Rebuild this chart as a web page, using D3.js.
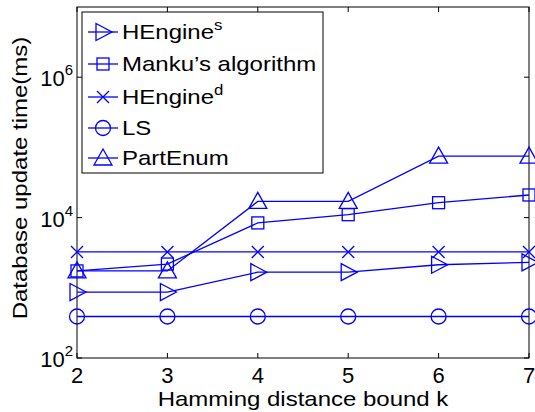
<!DOCTYPE html>
<html>
<head>
<meta charset="utf-8">
<script src="https://cdn.jsdelivr.net/npm/d3@7"></script>
<style>
  body { margin: 0; background: #fff; }
  svg { font-family: "Liberation Sans", Arial, sans-serif; }
</style>
</head>
<body>
<div id="chart"></div>
<script>
// valors llegits de la figura
const kValues = [2, 3, 4, 5, 6, 7];
const hengineS = [870, 870, 1670, 1670, 2130, 2300];
const manku = [1740, 2180, 8400, 11000, 16300, 21000];
const hengineD = [3240, 3240, 3240, 3240, 3240, 3240];
const ls = [390, 390, 390, 390, 390, 390];
const partEnum = [1740, 1740, 17000, 17000, 75000, 75000];
const yTicks = [1e2, 1e4, 1e6];

const seriesNames = ["HEngine", "Manku\u2019s algorithm", "HEngine", "LS", "PartEnum"];
const seriesSup = ["s", "", "d", "", ""];
const seriesData = [hengineS, manku, hengineD, ls, partEnum];
const seriesMarker = ["right", "square", "x", "circle", "up"];

const W = 535, H = 412;
const m = { left: 77, right: 529, top: 7, bottom: 358 };
const blue = "#0000ff";
const stretch = 1.2; // el text de l'original és més ample

const svg = d3.select("#chart").append("svg").attr("width", W).attr("height", H);

const x = d3.scaleLinear().domain([2, 7]).range([m.left, m.right]);
const y = d3.scaleLog().domain([1e2, 1e7]).range([m.bottom, m.top]);

// marcadors
function drawMarker(g, type, cx, cy) {
    const s = g.append("g").attr("transform", `translate(${cx},${cy})`)
        .attr("fill", "none").attr("stroke", blue).attr("stroke-width", 1.3);
    if (type === "right") s.append("path").attr("d", "M-7,-8.5L9,0L-7,8.5Z");
    else if (type === "square") s.append("rect").attr("x", -6).attr("y", -6).attr("width", 12).attr("height", 12);
    else if (type === "x") s.append("path").attr("d", "M-6,-6L6,6M-6,6L6,-6");
    else if (type === "circle") s.append("circle").attr("r", 7.5);
    else if (type === "up") s.append("path").attr("d", "M0,-9L9,7L-9,7Z");
}

// eixos amb marques cap a dins
const axisG = svg.append("g").attr("stroke", "#000").attr("stroke-width", 1);
axisG.append("rect").attr("x", m.left).attr("y", m.top)
    .attr("width", m.right - m.left).attr("height", m.bottom - m.top).attr("fill", "none");
kValues.forEach(k => {
    axisG.append("line").attr("x1", x(k)).attr("x2", x(k)).attr("y1", m.bottom).attr("y2", m.bottom - 5);
    axisG.append("line").attr("x1", x(k)).attr("x2", x(k)).attr("y1", m.top).attr("y2", m.top + 5);
});
yTicks.forEach(t => {
    axisG.append("line").attr("x1", m.left).attr("x2", m.left + 5).attr("y1", y(t)).attr("y2", y(t));
    axisG.append("line").attr("x1", m.right).attr("x2", m.right - 5).attr("y1", y(t)).attr("y2", y(t));
});

svg.append("g").selectAll("text").data(kValues).join("text")
    .attr("x", d => x(d)).attr("y", 383).attr("text-anchor", "middle")
    .attr("font-size", 22).text(d => d);

const yl = svg.append("g").selectAll("text").data(yTicks).join("text")
    .attr("x", 73).attr("y", d => y(d) + 9).attr("text-anchor", "end").attr("font-size", 22);
yl.append("tspan").text("10");
yl.append("tspan").attr("dy", -11).attr("font-size", 15).text(d => Math.round(Math.log10(d)));

// títols dels eixos
svg.append("g").attr("transform", `translate(${(m.left + m.right) / 2},406) scale(${stretch},1)`)
    .append("text").attr("text-anchor", "middle").attr("font-size", 20).text("Hamming distance bound k");
svg.append("g").attr("transform", `translate(27,178) rotate(-90) scale(${stretch},1)`)
    .append("text").attr("text-anchor", "middle").attr("font-size", 20).text("Database update time(ms)");

// línies de les sèries
const line = d3.line().x((d, i) => x(kValues[i])).y(d => y(d));
const plot = svg.append("g");
seriesData.forEach((vals, si) => {
    plot.append("path").datum(vals).attr("d", line)
        .attr("fill", "none").attr("stroke", blue).attr("stroke-width", 1.3);
    vals.forEach((v, i) => drawMarker(plot, seriesMarker[si], x(kValues[i]), y(v)));
});

// llegenda
const leg = svg.append("g");
leg.append("rect").attr("x", 82).attr("y", 12).attr("width", 241).attr("height", 161)
    .attr("fill", "#fff").attr("stroke", "#000").attr("stroke-width", 1);
const legY = [32, 64, 97, 128, 158];
seriesNames.forEach((name, i) => {
    leg.append("line").attr("x1", 88).attr("x2", 118).attr("y1", legY[i]).attr("y2", legY[i])
        .attr("stroke", blue).attr("stroke-width", 1.3);
    drawMarker(leg, seriesMarker[i], 103, legY[i]);
    const t = leg.append("g").attr("transform", `translate(122,${legY[i] + 7}) scale(${stretch},1)`)
        .append("text").attr("font-size", 20);
    t.append("tspan").text(name);
    if (seriesSup[i]) t.append("tspan").attr("dy", -9).attr("font-size", 14).text(seriesSup[i]);
});
</script>
</body>
</html>
